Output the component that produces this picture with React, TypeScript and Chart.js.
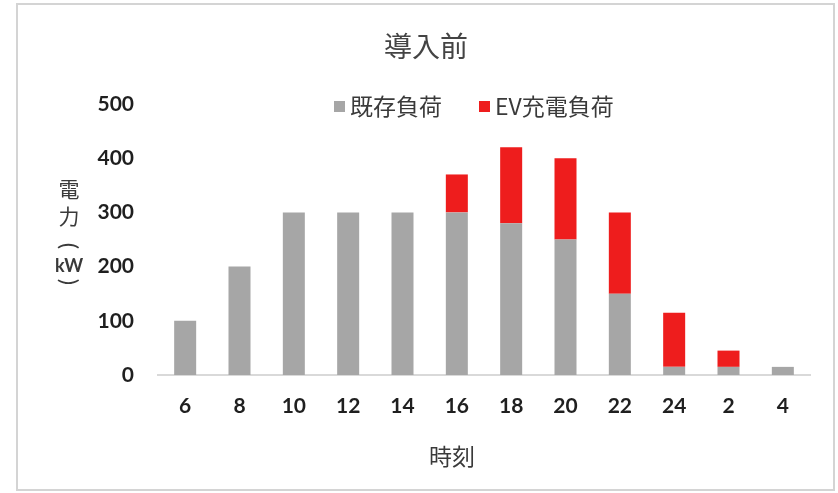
import React, { useEffect, useRef } from 'react';
import { Chart, registerables } from 'chart.js';

Chart.register(...registerables);

const categories = ['6', '8', '10', '12', '14', '16', '18', '20', '22', '24', '2', '4'];
const existingLoad = [100, 200, 300, 300, 300, 300, 280, 250, 150, 15, 15, 15];
const evLoad = [0, 0, 0, 0, 0, 70, 140, 150, 150, 100, 30, 0];
const yTicks = [0, 100, 200, 300, 400, 500];
const chartTitle = '導入前';
const xTitle = '時刻';
const yTitleParts = ['電', '力', '(', 'kW', ')'];
const seriesLabels = ['既存負荷', 'EV充電負荷'];
const seriesColors = ['#a6a6a6', '#ee1d1d'];

const CJK = '"Noto Sans CJK JP", "Noto Sans", sans-serif';
const NUM = 'Lato, "Open Sans", sans-serif';

const decor = {
  id: 'decor',
  beforeDraw(chart: any) {
    const ctx = chart.ctx;
    ctx.save();
    ctx.fillStyle = '#ffffff';
    ctx.fillRect(0, 0, chart.width, chart.height);
    ctx.strokeStyle = '#d4d4d4';
    ctx.lineWidth = 2;
    ctx.strokeRect(17, 4, 817, 486);
    ctx.restore();
  },
  afterDraw(chart: any) {
    const ctx = chart.ctx;
    ctx.save();
    ctx.textBaseline = 'middle';
    // title
    ctx.font = `28px ${CJK}`;
    ctx.fillStyle = '#444444';
    ctx.textAlign = 'center';
    ctx.fillText(chartTitle, 426, 46);
    // legend
    ctx.font = `23px ${CJK}`;
    ctx.textAlign = 'left';
    const legendX = [334, 479];
    seriesLabels.forEach((lab, i) => {
      ctx.fillStyle = seriesColors[i];
      ctx.fillRect(legendX[i], 101, 11, 11);
      ctx.fillStyle = '#3a3a3a';
      ctx.fillText(lab, legendX[i] + 16, 106);
    });
    // x title
    ctx.font = `23px ${CJK}`;
    ctx.textAlign = 'center';
    ctx.fillStyle = '#3a3a3a';
    ctx.fillText(xTitle, 452, 456);
    // y title (vertical)
    const yPos = [189, 216, 246, 266, 282];
    yTitleParts.forEach((p, i) => {
      if (p === '(' || p === ')') {
        ctx.save();
        ctx.translate(69, yPos[i]);
        ctx.rotate(Math.PI / 2);
        ctx.font = `24px ${NUM}`;
        ctx.fillStyle = '#3a3a3a';
        ctx.fillText(p, 0, 0);
        ctx.restore();
      } else {
        ctx.font = p === 'kW' ? `bold 18px ${NUM}` : `21px ${CJK}`;
        ctx.fillStyle = '#3a3a3a';
        ctx.fillText(p, 69, yPos[i]);
      }
    });
    ctx.restore();
  },
};

export default function App() {
  const ref = useRef<HTMLCanvasElement | null>(null);
  useEffect(() => {
    if (!ref.current) return;
    const chart = new Chart(ref.current, {
      type: 'bar',
      data: {
        labels: categories,
        datasets: [
          {
            label: seriesLabels[0],
            data: existingLoad,
            backgroundColor: seriesColors[0],
            barPercentage: 0.405,
            categoryPercentage: 1,
          },
          {
            label: seriesLabels[1],
            data: evLoad,
            backgroundColor: seriesColors[1],
            barPercentage: 0.405,
            categoryPercentage: 1,
          },
        ],
      },
      options: {
        animation: false,
        responsive: true,
        maintainAspectRatio: false,
        layout: { padding: { left: 0, right: 28, top: 104, bottom: 0 } },
        plugins: {
          legend: { display: false },
          title: { display: false },
          tooltip: { enabled: false },
        },
        scales: {
          x: {
            stacked: true,
            grid: { display: false, drawTicks: false },
            border: { display: true, color: '#d9d9d9', width: 2 },
            ticks: {
              color: '#1f1f1f',
              padding: 19,
              font: { family: NUM, weight: 'bold', size: 21 },
            },
            afterFit: (s: any) => {
              s.height = 118;
            },
          },
          y: {
            stacked: true,
            min: 0,
            max: 500,
            grid: { display: false, drawTicks: false },
            border: { display: false },
            ticks: {
              color: '#1f1f1f',
              padding: 24,
              font: { family: NUM, weight: 'bold', size: 21 },
            },
            afterBuildTicks: (s: any) => {
              s.ticks = yTicks.map((v) => ({ value: v }));
            },
            afterFit: (s: any) => {
              s.width = 158;
            },
          },
        },
      },
      plugins: [decor],
    });
    return () => chart.destroy();
  }, []);
  return (
    <div style={{ position: 'absolute', left: 0, top: 0, width: 838, height: 493 }}>
      <canvas ref={ref} />
    </div>
  );
}
